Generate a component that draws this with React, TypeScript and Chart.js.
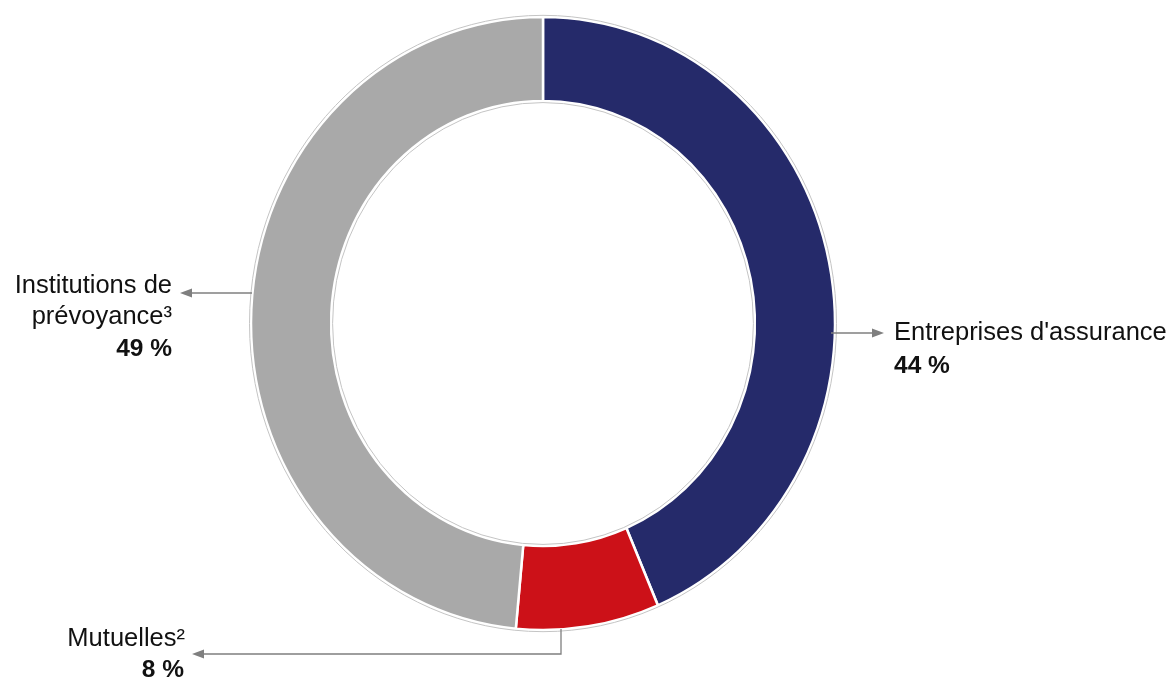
import React, { useEffect, useRef } from "react";
import { Chart, registerables } from "chart.js";

Chart.register(...registerables);

const categories = ["Entreprises d'assurance", "Mutuelles²", "Institutions de prévoyance³"];
const shares = [44, 8, 49];
const percentLabels = ["44 %", "8 %", "49 %"];
const labelLines = [["Entreprises d'assurance"], ["Mutuelles²"], ["Institutions de", "prévoyance³"]];
const colors = ["#252A6A", "#CC1118", "#A9A9A9"];

const Y_SCALE = 1.05;
const FONT = '"Liberation Sans", Arial, sans-serif';

export default function App() {
  const ref = useRef<HTMLCanvasElement | null>(null);

  useEffect(() => {
    if (!ref.current) return;

    const stretch = {
      id: "stretch",
      beforeDatasetsDraw(chart: any) {
        const meta = chart.getDatasetMeta(0);
        const a = meta.data[0];
        const ctx = chart.ctx;
        ctx.save();
        ctx.translate(a.x, a.y);
        ctx.scale(1, Y_SCALE);
        ctx.translate(-a.x, -a.y);
      },
      afterDatasetsDraw(chart: any) {
        const ctx = chart.ctx;
        ctx.restore();
        const a = chart.getDatasetMeta(0).data[0];
        ctx.save();
        ctx.strokeStyle = "#C4C4C4";
        ctx.lineWidth = 1;
        ctx.beginPath();
        ctx.ellipse(a.x, a.y, a.outerRadius + 1.5, (a.outerRadius + 1.5) * Y_SCALE, 0, 0, Math.PI * 2);
        ctx.stroke();
        ctx.beginPath();
        ctx.ellipse(a.x, a.y, a.innerRadius - 1.5, (a.innerRadius - 1.5) * Y_SCALE, 0, 0, Math.PI * 2);
        ctx.stroke();
        ctx.restore();
      },
    };

    const arrowHead = (ctx: CanvasRenderingContext2D, x: number, y: number, dir: number) => {
      ctx.beginPath();
      ctx.moveTo(x, y);
      ctx.lineTo(x - dir * 12, y - 4.5);
      ctx.lineTo(x - dir * 12, y + 4.5);
      ctx.closePath();
      ctx.fill();
    };

    const labels = {
      id: "labels",
      afterDraw(chart: any) {
        const ctx = chart.ctx as CanvasRenderingContext2D;
        const a = chart.getDatasetMeta(0).data[0];
        const cx = a.x;
        const cy = a.y;
        const R = a.outerRadius;
        ctx.save();
        ctx.strokeStyle = "#7F7F7F";
        ctx.fillStyle = "#7F7F7F";
        ctx.lineWidth = 1.3;

        // right arrow (Entreprises)
        ctx.beginPath();
        ctx.moveTo(cx + R - 4, 333);
        ctx.lineTo(875, 333);
        ctx.stroke();
        arrowHead(ctx, 884, 333, 1);

        // left arrow (Institutions)
        ctx.beginPath();
        ctx.moveTo(cx - R + 1, 293);
        ctx.lineTo(188, 293);
        ctx.stroke();
        arrowHead(ctx, 180, 293, -1);

        // bottom arrow (Mutuelles)
        ctx.beginPath();
        ctx.moveTo(561, cy + R * Y_SCALE - 1);
        ctx.lineTo(561, 654);
        ctx.lineTo(202, 654);
        ctx.stroke();
        arrowHead(ctx, 192, 654, -1);

        ctx.fillStyle = "#111111";
        ctx.textBaseline = "alphabetic";
        const reg = `25.5px ${FONT}`;
        const bold = `bold 24.5px ${FONT}`;

        // Entreprises
        ctx.textAlign = "left";
        ctx.font = reg;
        ctx.fillText(labelLines[0][0], 894, 340);
        ctx.font = bold;
        ctx.fillText(percentLabels[0], 894, 373);

        // Institutions
        ctx.textAlign = "right";
        ctx.font = reg;
        ctx.fillText(labelLines[2][0], 172, 293);
        ctx.fillText(labelLines[2][1], 172, 324);
        ctx.font = bold;
        ctx.fillText(percentLabels[2], 172, 356);

        // Mutuelles
        ctx.font = reg;
        ctx.fillText(labelLines[1][0], 185, 646);
        ctx.font = bold;
        ctx.fillText(percentLabels[1], 184, 677);
        ctx.restore();
      },
    };

    const chart = new Chart(ref.current, {
      type: "doughnut",
      data: {
        labels: categories,
        datasets: [
          {
            data: shares,
            backgroundColor: colors,
            borderColor: "#FFFFFF",
            borderWidth: 2.5,
          },
        ],
      },
      options: {
        animation: false,
        responsive: true,
        maintainAspectRatio: false,
        radius: 292,
        cutout: 211,
        layout: { padding: { left: 251, right: 339, top: 31, bottom: 62 } },
        plugins: {
          legend: { display: false },
          tooltip: { enabled: false },
        },
      },
      plugins: [stretch, labels],
    });
    return () => chart.destroy();
  }, []);

  return (
    <div style={{ position: "absolute", left: 0, top: 0, width: 1174, height: 678, background: "#fff" }}>
      <canvas ref={ref} />
    </div>
  );
}
